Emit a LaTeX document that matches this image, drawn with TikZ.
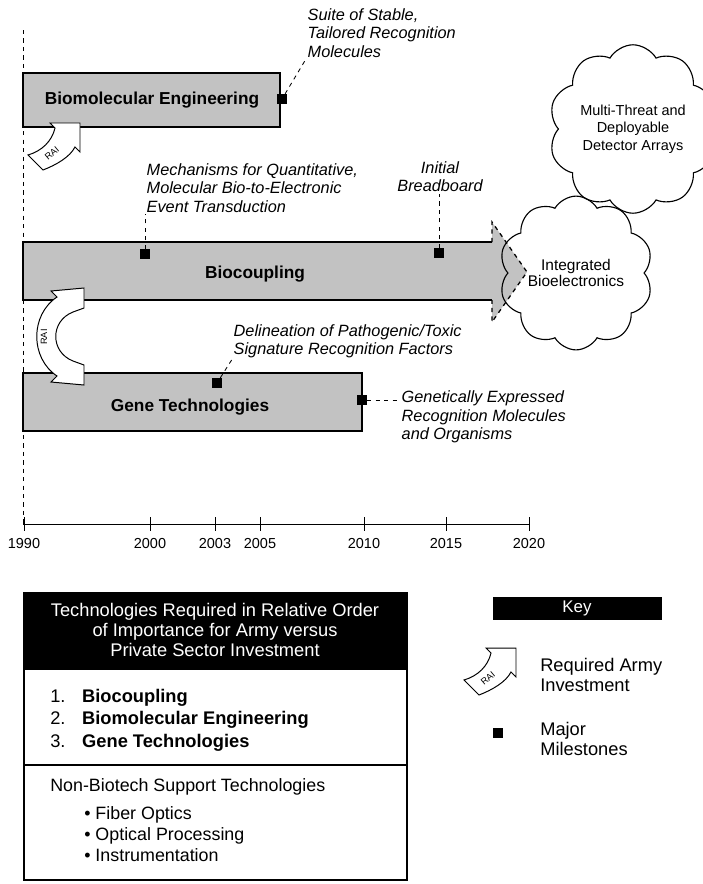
\documentclass[tikz,border=0pt]{standalone}
\usepackage{fontspec}
\setmainfont{Liberation Sans}
\usetikzlibrary{positioning,calc,shapes.symbols}
\tikzset{
  bar/.style={draw=black,fill=black!24,line width=0.9pt},
  mile/.style={rectangle,fill=black,inner sep=0pt,minimum size=7pt},
  note/.style={font=\fontsize{11.6}{13}\selectfont\itshape,align=left,inner sep=1pt},
  barlabel/.style={font=\fontsize{12.3}{14}\selectfont\bfseries,inner sep=0pt},
  link/.style={draw=black,dashed,line width=0.6pt},
  cloudbox/.style={cloud,cloud puffs=10,cloud puff arc=120,aspect=1,draw=black,
    line width=0.8pt,align=center,inner sep=0pt},
  raitext/.style={font=\fontsize{6.5}{7}\selectfont,inner sep=0pt},
  yearlab/.style={font=\fontsize{10.3}{12}\selectfont,inner sep=0pt},
  keytext/.style={font=\fontsize{13}{14.5}\selectfont,align=left,inner sep=0pt},
  rai/.pic={
    \filldraw[fill=white,line width=0.7pt] (0,0) -- (-30,0) -- (-25,5)
      .. controls (-28,18) and (-38,28) .. (-52,32) -- (-37,47)
      .. controls (-24,42) and (-10,34) .. (-5,24) -- (0,29) -- cycle;
    \node[raitext,rotate=40] (-lbl) at (-28,30) {RAI};
  },
}

\begin{document}
\begin{tikzpicture}[x=0.025cm,y=-0.025cm]
\useasboundingbox (0,0) rectangle (703,884);
% time line
\coordinate (start) at (23,30);
\coordinate (base) at (23,524);
\draw[dashed,line width=0.6pt] (start) -- (base);
% bars
\filldraw[bar] (23,73) rectangle (280,127);
\filldraw[bar] (23,373) rectangle (362,431);
\fill[black!24] (23,242) -- (492,242) -- (492,222) -- (527,272) -- (492,322) -- (492,300) -- (23,300) -- cycle;
\draw[line width=0.9pt] (492,242) -- (23,242) -- (23,300) -- (492,300);
\draw[line width=0.9pt,dashed] (492,242) -- (492,222) -- (527,272) -- (492,322) -- (492,300);
\node[barlabel] (biomollab) at (152,100) {Biomolecular Engineering};
\node[barlabel] (biocouplab) at (255,274) {Biocoupling};
\node[barlabel] (genelab) at (190,407) {Gene Technologies};
% army investment arrows
\pic (rai1) at (80,123) {rai};
\filldraw[fill=white,line width=0.7pt] (84,288) -- (51,291) -- (57,297)
  .. controls (30,315) and (30,358) .. (57,376) -- (51,382) -- (84,385)
  -- (84,365) -- (73,361) .. controls (50,352) and (50,321) .. (73,312)
  -- (84,308) -- cycle;
\node[raitext,rotate=90] (rai2) at (44,337) {RAI};
% milestones
\node[mile] (m1) at (282,99) {};
\node[mile] (m2) at (145,254) {};
\node[mile] (m3) at (439,253) {};
\node[mile] (m4) at (217,383) {};
\node[mile] (m5) at (362,400) {};
\node[note,anchor=west] (suite) at (306,33) {Suite of Stable,\\Tailored Recognition\\Molecules};
\node[note,anchor=west] (mech) at (145,188) {Mechanisms for Quantitative,\\Molecular Bio-to-Electronic\\Event Transduction};
\node[note,align=center] (initial) at (440,177) {Initial\\Breadboard};
\node[note,anchor=west] (delin) at (232,341) {Delineation of Pathogenic/Toxic\\Signature Recognition Factors};
\node[note,anchor=west] (genex) at (400,417) {Genetically Expressed\\Recognition Molecules\\and Organisms};
\draw[link] (m1) -- (suite.south west);
\draw[link] (m2) -- (m2 |- mech.south);
\draw[link] (m3) -- (m3 |- initial.south);
\draw[link] (m4) -- (delin.south west);
\draw[link] (m5) -- (m5 -| genex.west);
% goals
\node[cloudbox,minimum width=3.55cm,minimum height=3.4cm,font=\fontsize{11}{12}\selectfont] (integ) at (576,273) {Integrated\\Bioelectronics};
\node[cloudbox,minimum width=3.15cm,minimum height=3.6cm,font=\fontsize{10.3}{12.6}\selectfont] (threat) at (633,129) {Multi-Threat and\\Deployable\\Detector Arrays};
% axis
\draw[line width=0.7pt] (base) -- (529,524);
\foreach \yr/\px in {1990/24,2000/150,2003/215,2005/260,2010/364,2015/446,2020/529}{
  \draw[line width=0.7pt] (\px,517) -- (\px,531);
  \node[yearlab] (y\yr) at (\px,544) {\yr};
}
% priority table
\fill[black] (24,593) rectangle (407,670);
\draw[line width=0.9pt] (24,593) rectangle (407,880);
\draw[line width=0.9pt] (24,765) -- (407,765);
\node[font=\fontsize{13}{14.2}\selectfont,text=white,align=center,inner sep=0pt] (head) at (215,630)
  {Technologies Required in Relative Order\\of Importance for Army versus\\Private Sector Investment};
\node[font=\fontsize{13}{16}\selectfont,align=left,anchor=west,inner sep=0pt] (prio) at (50,720)
  {\makebox[22.7pt][l]{1.}\textbf{Biocoupling}\\\makebox[22.7pt][l]{2.}\textbf{Biomolecular Engineering}\\\makebox[22.7pt][l]{3.}\textbf{Gene Technologies}};
\node[font=\fontsize{12.7}{15}\selectfont,anchor=west,inner sep=0pt] (support) at (50,787) {Non-Biotech Support Technologies};
\node[font=\fontsize{12.7}{15}\selectfont,align=left,anchor=west,inner sep=0pt] (items) at (84,834)
  {\textbullet\ Fiber Optics\\\textbullet\ Optical Processing\\\textbullet\ Instrumentation};
% key
\fill[black] (493,597) rectangle (662,620);
\node[font=\fontsize{12}{14}\selectfont,text=white,inner sep=0pt] (keyhead) at (577,608.5) {Key};
\pic (rai3) at (516,648) {rai};
\node[keytext,anchor=west] (raikey) at (540,675) {Required Army\\Investment};
\node[mile] (m6) at (498,733) {};
\node[keytext,anchor=west] (milekey) at (540,739) {Major\\Milestones};
\end{tikzpicture}
\end{document}
